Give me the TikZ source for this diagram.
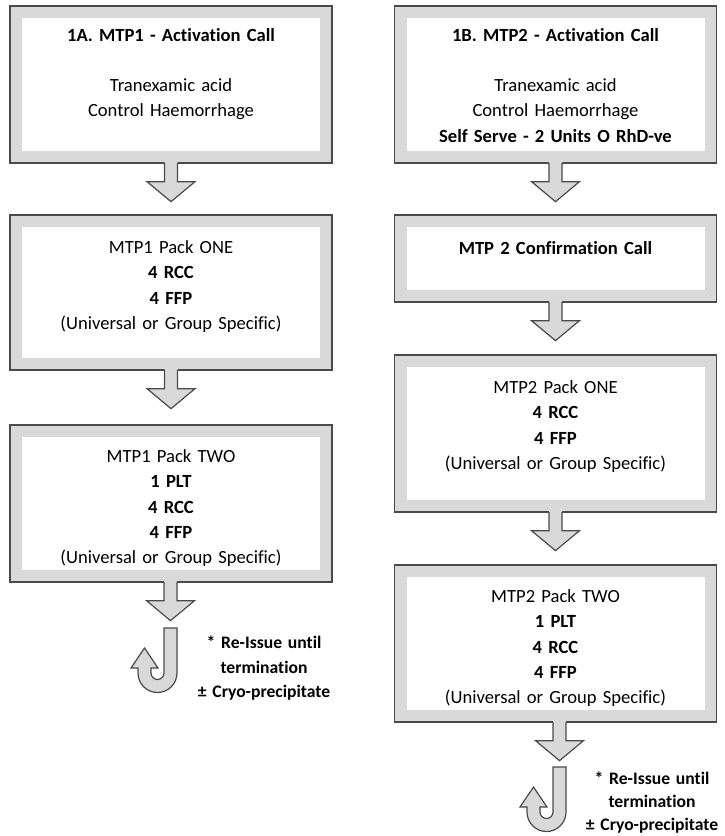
\documentclass[tikz,border=0pt]{standalone}
\usepackage{fontspec}
\setmainfont{Carlito}[Ligatures={NoCommon,NoRare,NoContextual}]
\usetikzlibrary{calc}
\definecolor{framefill}{HTML}{D9D9D9}
\definecolor{edge}{HTML}{4A4A4A}

% block arrow hanging under a box, pointing to the next one
\newcommand{\packarrow}[2]{%
  \fill[framefill] let \p1=(#1.south), \p2=(#2) in
    (\x2-6.5pt,\y1+1.5pt) -- (\x2-6.5pt,\y1-18pt) -- (\x2-24pt,\y1-18pt) --
    (\x2,\y1-38pt) -- (\x2+24pt,\y1-18pt) -- (\x2+6.5pt,\y1-18pt) --
    (\x2+6.5pt,\y1+1.5pt) -- cycle;
  \draw[outline] let \p1=(#1.south), \p2=(#2) in
    (\x2-6.5pt,\y1+0.6pt) -- (\x2-6.5pt,\y1-18pt) -- (\x2-24pt,\y1-18pt) --
    (\x2,\y1-38pt) -- (\x2+24pt,\y1-18pt) -- (\x2+6.5pt,\y1-18pt) --
    (\x2+6.5pt,\y1+0.6pt);
}
% J-shaped re-issue arrow, #1 = top centre of its stem
\newcommand{\reissuearrow}[1]{%
  \path[fill=framefill, outline] ([xshift=-6.5pt]#1) -- ++(13pt,0) -- ++(0,-45pt)
    arc[start angle=0,end angle=-180,radius=19.5pt] -- ++(0,5pt) -- ++(-7pt,0)
    -- ++(13.5pt,20pt) -- ++(13.5pt,-20pt) -- ++(-7pt,0) -- ++(0,-5pt)
    arc[start angle=180,end angle=360,radius=6.5pt] -- cycle;
}

\begin{document}
\begin{tikzpicture}[x=1pt,y=1pt,
  outline/.style={draw=edge, line width=1.2pt, line join=miter},
  frame/.style={rectangle, draw=edge, line width=1.3pt, fill=framefill,
    minimum width=322pt, inner sep=0pt,
    path picture={\fill[white]
      ([shift={(12pt,12pt)}]path picture bounding box.south west) rectangle
      ([shift={(-12pt,-12pt)}]path picture bounding box.north east);}},
  txt/.style={font=\fontsize{18.6}{25.3}\selectfont, align=center,
    text width=310pt, anchor=base, inner sep=0pt},
  note/.style={font=\fontsize{17.6}{24.5}\selectfont\bfseries, align=center,
    text width=160pt, anchor=base, inner sep=0pt}
]
\useasboundingbox (0,0) rectangle (724,-836);

% left column: MTP1
\node[frame, minimum height=157pt] (L1) at (171,-84.5) {};
\node[frame, minimum height=155pt] (L2) at (171,-292.5) {};
\node[frame, minimum height=157pt] (L3) at (171,-503.5) {};

% right column: MTP2
\node[frame, minimum height=157pt] (R1) at (555.5,-84.5) {};
\node[frame, minimum height=87pt]  (R2) at (555.5,-258.5) {};
\node[frame, minimum height=157pt] (R3) at (555.5,-433.5) {};
\node[frame, minimum height=157pt] (R4) at (555.5,-643.5) {};

% box texts
\node[txt] (L1t) at (171,-41.5) {\textbf{1A. MTP1 - Activation Call}\\[24.7pt]
  Tranexamic acid\\ Control Haemorrhage};
\node[txt] (L2t) at (171,-253.5) {MTP1 Pack ONE\\ \textbf{4 RCC}\\ \textbf{4 FFP}\\
  (Universal or Group Specific)};
\node[txt] (L3t) at (171,-462.5) {MTP1 Pack TWO\\ \textbf{1 PLT}\\ \textbf{4 RCC}\\
  \textbf{4 FFP}\\ (Universal or Group Specific)};

\node[txt] (R1t) at (555.5,-41.5) {\textbf{1B. MTP2 - Activation Call}\\[24.7pt]
  Tranexamic acid\\ Control Haemorrhage\\ \textbf{Self Serve - 2 Units O RhD-ve}};
\node[txt] (R2t) at (555.5,-254.5) {\textbf{MTP 2 Confirmation Call}};
\node[txt] (R3t) at (555.5,-393.5) {MTP2 Pack ONE\\ \textbf{4 RCC}\\ \textbf{4 FFP}\\
  (Universal or Group Specific)};
\node[txt] (R4t) at (555.5,-602.5) {MTP2 Pack TWO\\ \textbf{1 PLT}\\ \textbf{4 RCC}\\
  \textbf{4 FFP}\\ (Universal or Group Specific)};

% re-issue markers
\coordinate (jL) at (170.5,-628);
\coordinate (jR) at (559.5,-767);
\node[note] (nL) at (264,-648.5) {* Re-Issue until\\ termination\\ ± Cryo-precipitate};
\node[note] (nR) at (652,-784) {* Re-Issue until\\[-1.5pt] termination\\[-1.5pt] ± Cryo-precipitate};

% connectors
\packarrow{L1}{L2}
\packarrow{L2}{L3}
\packarrow{L3}{jL}
\packarrow{R1}{R2}
\packarrow{R2}{R3}
\packarrow{R3}{R4}
\packarrow{R4}{jR}
\reissuearrow{jL}
\reissuearrow{jR}
\end{tikzpicture}
\end{document}
